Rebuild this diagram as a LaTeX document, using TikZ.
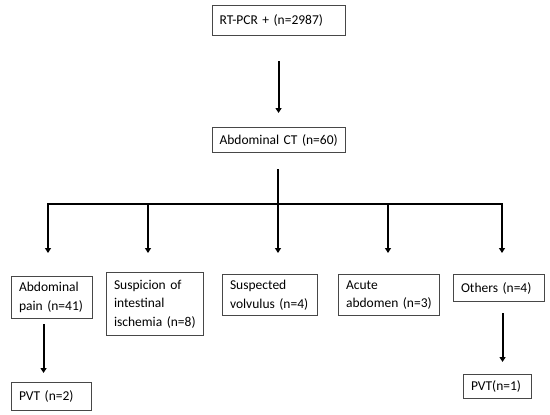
\documentclass[tikz,border=0pt]{standalone}
\usepackage{fontspec}
\setmainfont{Carlito}
\usetikzlibrary{arrows.meta}
\tikzset{
  box/.style={draw=black!72, line width=1.1pt, anchor=north west, inner xsep=7.5pt, inner ysep=0pt,
    align=left, font=\fontsize{13.5}{18.5}\selectfont},
  arr/.style={draw=black, line width=2pt, -{Triangle[width=6pt,length=5pt]}},
  busline/.style={draw=black, line width=2.3pt},
}
\begin{document}
\begin{tikzpicture}[x=1pt,y=-1pt]
\useasboundingbox (0,0) rectangle (550,415);

\node[box, minimum width=133pt, text width=118pt, minimum height=30pt] (top) at (211.5,5) {RT-PCR~+~(n=2987)};
\node[box, minimum width=133pt, text width=118pt, minimum height=25pt] (ct) at (211.5,127) {Abdominal~CT~(n=60)};

\node[box, minimum width=81pt, text width=66pt, minimum height=42pt] (pain) at (11,276) {Abdominal\\pain~(n=41)};
\node[box, minimum width=97pt, text width=82pt, minimum height=63pt] (susp) at (106,272) {Suspicion~of\\intestinal\\ischemia~(n=8)};
\node[box, minimum width=95pt, text width=80pt, minimum height=41pt] (volv) at (222,274) {Suspected\\volvulus~(n=4)};
\node[box, minimum width=101pt, text width=86pt, minimum height=41pt] (acute) at (338,274) {Acute\\abdomen~(n=3)};
\node[box, minimum width=91pt, text width=76pt, minimum height=27pt] (others) at (453,274) {Others~(n=4)};
\node[box, minimum width=80pt, text width=65pt, minimum height=28pt] (pvta) at (11,382) {PVT~(n=2)};
\node[box, minimum width=68pt, text width=53pt, minimum height=24pt] (pvtb) at (463,374) {PVT(n=1)};

% top to CT
\draw[arr, shorten <=25pt, shorten >=14pt] (top.south) -- (top.south |- ct.north);

% CT to bus
\coordinate (hub) at (278,204);
\draw[busline, shorten <=16pt] (ct.south -| hub) -- (hub);
\coordinate (t1) at (48,204);
\coordinate (t2) at (148,204);
\coordinate (t3) at (278,204);
\coordinate (t4) at (388,204);
\coordinate (t5) at (502,204);
\draw[busline, line cap=rect] (t1) -- (t5);

\draw[arr, shorten >=23pt] (t1) -- (t1 |- pain.north);
\draw[arr, shorten >=19pt] (t2) -- (t2 |- susp.north);
\draw[arr, shorten >=21pt] (t3) -- (t3 |- volv.north);
\draw[arr, shorten >=21pt] (t4) -- (t4 |- acute.north);
\draw[arr, shorten >=21pt] (t5) -- (t5 |- others.north);

% lower arrows
\coordinate (p1) at ([xshift=-8.5pt]pain.south);
\draw[arr, shorten <=5pt, shorten >=9pt] (p1) -- (p1 |- pvta.north);
\coordinate (p2) at ([xshift=3.5pt]others.south);
\draw[arr, shorten <=11pt, shorten >=12pt] (p2) -- (p2 |- pvtb.north);
\end{tikzpicture}
\end{document}
